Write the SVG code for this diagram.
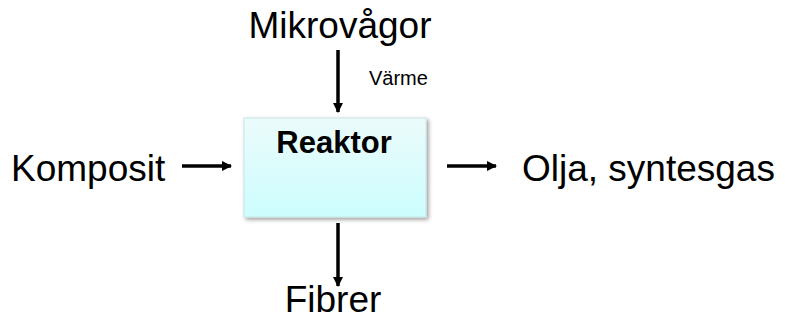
<svg xmlns="http://www.w3.org/2000/svg" width="785" height="321" viewBox="0 0 785 321">
  <style>
    .lbl { font-family: "Liberation Sans", Arial, sans-serif; fill: #000; }
    .big { font-size: 37px; }
    .small { font-size: 20px; }
    .title { font-size: 31px; font-weight: bold; }
    .conn { stroke: #000; stroke-width: 3.5; fill: none; marker-end: url(#head); }
  </style>
  <defs>
    <marker id="head" viewBox="0 0 10 10" refX="9" refY="5" markerWidth="3" markerHeight="3" orient="auto" markerUnits="strokeWidth">
      <path d="M0,0 L10,5 L0,10 z" fill="#000"/>
    </marker>
    <linearGradient id="boxFill" x1="0" y1="0" x2="0" y2="1">
      <stop offset="0" stop-color="#ecfbfb"/>
      <stop offset="1" stop-color="#ccfdfe"/>
    </linearGradient>
    <filter id="shadow" x="-10%" y="-10%" width="130%" height="130%">
      <feGaussianBlur in="SourceAlpha" stdDeviation="2"/>
      <feOffset dx="2" dy="2" result="b"/>
      <feComponentTransfer><feFuncA type="linear" slope="0.4"/></feComponentTransfer>
      <feMerge><feMergeNode/><feMergeNode in="SourceGraphic"/></feMerge>
    </filter>
  </defs>

  <g id="connectors">
    <line class="conn" x1="338" y1="50" x2="338" y2="112"/>
    <line class="conn" x1="182" y1="166" x2="231" y2="166"/>
    <line class="conn" x1="447" y1="166" x2="496" y2="166"/>
    <line class="conn" x1="338" y1="223" x2="338" y2="286"/>
  </g>

  <g id="reaktor">
    <rect x="244" y="118" width="182" height="99" fill="url(#boxFill)" stroke="#c8e6e6" stroke-width="1" filter="url(#shadow)"/>
    <text class="lbl title" x="334" y="153" text-anchor="middle">Reaktor</text>
  </g>

  <g id="mikrovagor">
    <text class="lbl big" x="340" y="38" text-anchor="middle">Mikrovågor</text>
  </g>

  <g id="varme">
    <text class="lbl small" x="369" y="85">Värme</text>
  </g>

  <g id="komposit">
    <text class="lbl big" x="11" y="181">Komposit</text>
  </g>

  <g id="olja">
    <text class="lbl big" x="522" y="181">Olja, syntesgas</text>
  </g>

  <g id="fibrer">
    <text class="lbl big" x="333" y="312" text-anchor="middle">Fibrer</text>
  </g>
</svg>
